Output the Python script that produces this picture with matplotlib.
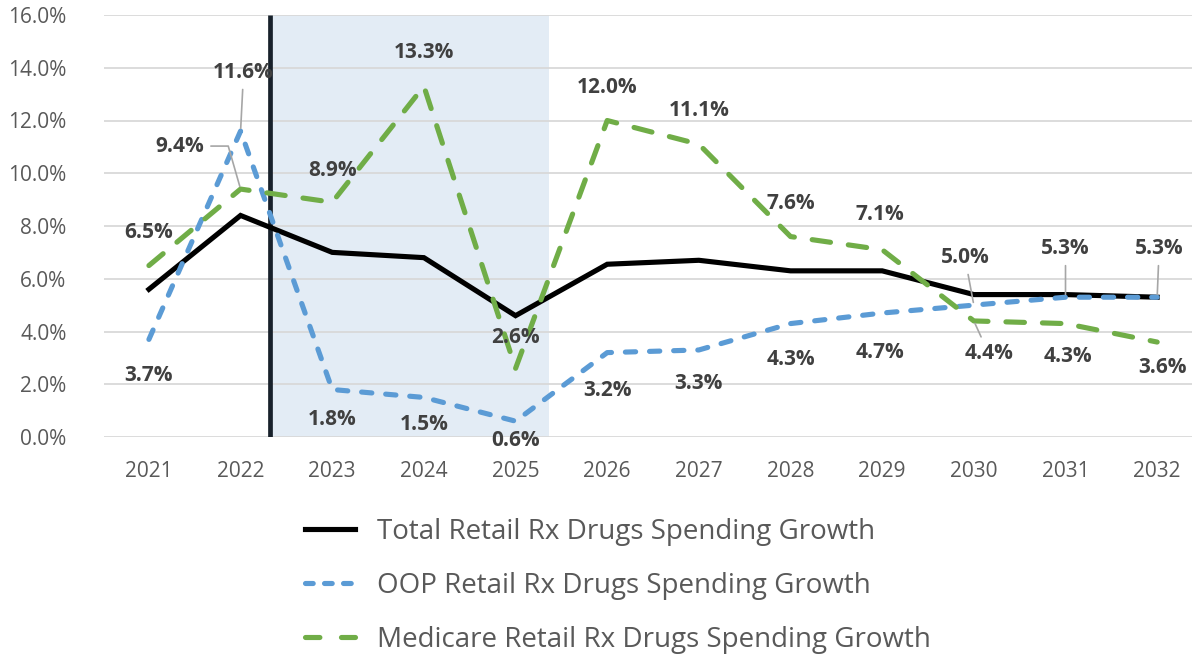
import matplotlib
matplotlib.use("Agg")
import matplotlib.pyplot as plt
from matplotlib.lines import Line2D

plt.rcParams['font.family'] = ['Open Sans', 'DejaVu Sans']

years = ['2021', '2022', '2023', '2024', '2025', '2026', '2027', '2028', '2029', '2030', '2031', '2032']
total = [5.6, 8.4, 7.0, 6.8, 4.6, 6.55, 6.7, 6.3, 6.3, 5.4, 5.4, 5.3]
oop = [3.7, 11.6, 1.8, 1.5, 0.6, 3.2, 3.3, 4.3, 4.7, 5.0, 5.3, 5.3]
medicare = [6.5, 9.4, 8.9, 13.3, 2.6, 12.0, 11.1, 7.6, 7.1, 4.4, 4.3, 3.6]
yticks = [0, 2, 4, 6, 8, 10, 12, 14, 16]
series_names = ['Total Retail Rx Drugs Spending Growth',
                'OOP Retail Rx Drugs Spending Growth',
                'Medicare Retail Rx Drugs Spending Growth']

W, H = 1194, 657
fig = plt.figure(figsize=(W / 100, H / 100), dpi=100)
ax = fig.add_axes([104 / W, 1 - 437 / H, (1192 - 104) / W, 422 / H])

x = list(range(len(years)))
ax.set_xlim(-0.49, 11.38)
ax.set_ylim(0, 16)

# shaded region and vertical marker
ax.axvspan(1.32, 4.37, color='#dee9f4', alpha=0.85, zorder=0, lw=0)
ax.plot([1.32, 1.32], [0, 16], color='#18212b', lw=3.4, zorder=3, solid_capstyle='butt')

for t in yticks:
    ax.axhline(t, color='#d9d9d9', lw=1.3, zorder=1)

blue = '#5b9bd5'
green = '#70ad47'
lw = 3.7
blue_dash = (2.0, 2.7)
green_dash = (3.6, 3.5)
l1, = ax.plot(x, total, color='black', lw=lw, zorder=4, solid_joinstyle='miter')
l2, = ax.plot(x, oop, color=blue, lw=lw, zorder=5, dashes=blue_dash, dash_capstyle='round')
l3, = ax.plot(x, medicare, color=green, lw=lw, zorder=5, dashes=green_dash, dash_capstyle='round')

ax.set_xticks(x)
ax.set_xticklabels(years)
ax.set_yticks(yticks)
ax.set_yticklabels([f'{t:.1f}%' for t in yticks])
ax.tick_params(axis='both', length=0, labelsize=15, labelcolor='#595959')
ax.tick_params(axis='y', pad=27)
ax.tick_params(axis='x', pad=17)
for s in ax.spines.values():
    s.set_visible(False)

lab_color = '#404040'
lab_kw = dict(textcoords='offset pixels', ha='center', va='center',
              fontsize=15, fontweight='bold', color=lab_color, zorder=6)

# offsets (pixels) for labels; leader flags
oop_off = [(0, -36), (3, 59), (0, -30), (0, -27), (0, -19), (0, -38), (0, -34),
           (0, -36), (-2, -39), (-9, 48), (0, 49), (2, 49)]
med_off = [(0, 33), (-61, 43), (0, 32), (0, 34), (0, 31), (0, 33), (0, 34),
           (0, 33), (-2, 35), (15, -33), (2, -33), (5, -25)]
oop_leader = {1, 9, 10, 11}
med_leader = {1, 9}

leader = dict(arrowstyle='-', color='#a6a6a6', lw=1.2, shrinkA=3, shrinkB=2)

for i, v in enumerate(oop):
    kw = dict(lab_kw)
    if i in oop_leader:
        kw['arrowprops'] = leader
    ax.annotate(f'{v:.1f}%', xy=(i, v), xytext=oop_off[i], **kw)

for i, v in enumerate(medicare):
    kw = dict(lab_kw)
    if i in med_leader:
        ap = dict(leader)
        if i == 1:
            ap['connectionstyle'] = 'angle,angleA=0,angleB=-74,rad=0'
            ap['relpos'] = (1.0, 0.5)
        kw['arrowprops'] = ap
    ax.annotate(f'{v:.1f}%', xy=(i, v), xytext=med_off[i], **kw)

handles = [Line2D([], [], color='black', lw=lw),
           Line2D([], [], color=blue, lw=lw, dashes=(1.5, 2.2), dash_capstyle='round'),
           Line2D([], [], color=green, lw=lw, dashes=(2.8, 4.2), dash_capstyle='round')]
fig.legend(handles, series_names, loc='upper left', bbox_to_anchor=(280 / W, 1 - 493 / H),
           frameon=False, fontsize=20, handlelength=1.8, handletextpad=0.8,
           labelspacing=0.93, labelcolor='#595959')

fig.savefig('out.png', dpi=100)
